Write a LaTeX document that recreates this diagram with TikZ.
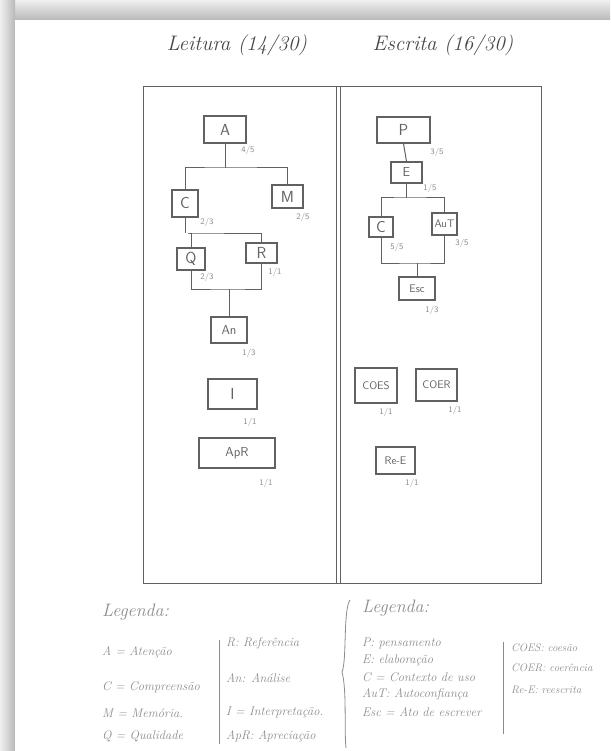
\documentclass[tikz,border=0pt]{standalone}
\usetikzlibrary{calc}
\definecolor{pencil}{gray}{0.38}
\definecolor{lightpencil}{gray}{0.55}
\definecolor{paper}{gray}{0.985}
\begin{document}
\begin{tikzpicture}[x=1pt,y=-1pt,
  bx/.style={draw=pencil, line width=1.1pt, inner sep=0pt, text=pencil,
    font=\sffamily\fontsize{16}{16}\selectfont},
  bxs/.style={bx, font=\sffamily\fontsize{11}{11}\selectfont},
  bxm/.style={bx, font=\sffamily\fontsize{13}{13}\selectfont},
  sc/.style={text=lightpencil, inner sep=0pt, font=\sffamily\fontsize{8.5}{8.5}\selectfont},
  ln/.style={draw=pencil, line width=1pt},
  ttl/.style={text=black!72, inner sep=0pt, font=\itshape\fontsize{21}{21}\selectfont},
  lg/.style={text=lightpencil, inner sep=0pt, anchor=west, font=\itshape\fontsize{12.5}{12.5}\selectfont},
  lgr/.style={lg, font=\itshape\fontsize{11}{11}\selectfont},
  lgh/.style={lg, font=\itshape\fontsize{18}{18}\selectfont}]
\useasboundingbox (0,0) rectangle (610,751);
% paper and scan shadow
\fill[paper] (0,0) rectangle (610,751);
\shade[top color=gray!12, bottom color=gray!55] (0,0) rectangle (610,20);
\shade[left color=gray!12, right color=gray!55] (0,0) rectangle (15,751);
\fill[white] (15,20) rectangle (610,751);

% titles
\node[ttl] (t1) at (237,45) {Leitura (14/30)};
\node[ttl] (t2) at (443,45) {Escrita (16/30)};

% main frame
\draw[draw=pencil, line width=1pt] (143,87) rectangle (541,583);
\draw[draw=pencil, line width=0.9pt] (336,87) -- (336,583);
\draw[draw=pencil, line width=0.9pt] (340,87) -- (340,583);

% ---------- Leitura tree ----------
\node[bx, minimum width=42pt, minimum height=27pt] (A) at (225,129.5) {A};
\node[bx, minimum width=26pt, minimum height=27pt] (C) at (185,203.5) {C};
\node[bx, minimum width=31pt, minimum height=23pt] (M) at (287.5,196.5) {M};
\node[bx, minimum width=28pt, minimum height=22pt] (Q) at (191,259) {Q};
\node[bx, minimum width=31pt, minimum height=20pt] (R) at (261.5,253) {R};
\node[bxm, minimum width=36pt, minimum height=26pt] (An) at (229,330) {An};
\node[bx, minimum width=49pt, minimum height=30pt] (I) at (232.5,394) {I};
\node[bxm, minimum width=76pt, minimum height=30pt] (ApR) at (237,453) {ApR};

\coordinate (busA) at (225,168);
\coordinate (busC) at (188,233);
\coordinate (busQ) at (229,289);
\draw[ln] (A.south) -- (A.south |- busA);
\draw[ln] (C.north) |- (busA) -| (M.north);
\draw[ln] (C.south) -- (C.south |- busC);
\draw[ln] (Q.north) |- (busC) -| (R.north);
\draw[ln] (Q.south) |- (busQ) -| (R.south);
\draw[ln] (busQ) -- (An.north);

\node[sc] (sA) at (248,150) {4/5};
\node[sc] (sM) at (303,217) {2/5};
\node[sc] (sC) at (207,222) {2/3};
\node[sc] (sR) at (275,272) {1/1};
\node[sc] (sQ) at (207,277) {2/3};
\node[sc] (sAn) at (249,353) {1/3};
\node[sc] (sI) at (250,422) {1/1};
\node[sc] (sApR) at (266,483) {1/1};

% ---------- Escrita tree ----------
\node[bx, minimum width=53pt, minimum height=26pt] (P) at (403.5,130) {P};
\node[bxm, minimum width=31pt, minimum height=21pt] (E) at (406.5,172.5) {E};
\node[bx, minimum width=24pt, minimum height=20pt] (C2) at (381,227) {C};
\node[bxs, minimum width=25pt, minimum height=22pt] (AuT) at (444.5,224) {AuT};
\node[bxs, minimum width=36pt, minimum height=23pt] (Esc) at (417,288.5) {Esc};
\node[bxs, minimum width=42pt, minimum height=35pt] (COES) at (376,385.5) {COES};
\node[bxs, minimum width=41pt, minimum height=32pt] (COER) at (436.5,385) {COER};
\node[bxs, minimum width=39pt, minimum height=27pt] (ReE) at (395.5,460.5) {Re-E};

\coordinate (busE) at (407,198);
\coordinate (busC2) at (417,263);
\draw[ln] (P.south) -- (E.north);
\draw[ln] (E.south) -- (E.south |- busE);
\draw[ln] (C2.north) |- (busE) -| (AuT.north);
\draw[ln] (C2.south) |- (busC2) -| (AuT.south);
\draw[ln] (busC2) -- (Esc.north);

\node[sc] (sP) at (437,152) {3/5};
\node[sc] (sE) at (430,188) {1/5};
\node[sc] (sAuT) at (462,243) {3/5};
\node[sc] (sC2) at (397,247) {5/5};
\node[sc] (sEsc) at (432,310) {1/3};
\node[sc] (sCOES) at (386,412) {1/1};
\node[sc] (sCOER) at (455,410) {1/1};
\node[sc] (sReE) at (412,483) {1/1};

% ---------- legends ----------
\node[lgh] (lg1) at (102,612) {Legenda:};
\node[lg] (l1a) at (102,652) {A = Atenção};
\node[lg] (l1b) at (102,687) {C = Compreensão};
\node[lg] (l1c) at (102,713) {M = Memória.};
\node[lg] (l1d) at (102,736) {Q = Qualidade};
\draw[draw=lightpencil, line width=0.8pt] (219,640) -- (219,744);
\node[lg] (l1e) at (226,643) {R: Referência};
\node[lg] (l1f) at (226,678) {An: Análise};
\node[lg] (l1g) at (226,712) {I = Interpretação.};
\node[lg] (l1h) at (226,736) {ApR: Apreciação};

\draw[draw=lightpencil, line width=0.8pt] (350,600) .. controls (343,610) and (347,660) .. (342,672)
  .. controls (347,690) and (344,730) .. (346,748);

\node[lgh] (lg2) at (362,608) {Legenda:};
\node[lg] (l2a) at (362,643) {P: pensamento};
\node[lg] (l2b) at (362,660) {E: elaboração};
\node[lg] (l2c) at (362,677) {C = Contexto de uso};
\node[lg] (l2d) at (362,694) {AuT: Autoconfiança};
\node[lg] (l2e) at (362,712) {Esc = Ato de escrever};
\draw[draw=lightpencil, line width=0.8pt] (503,642) -- (503,734);
\node[lgr] (l2f) at (511,648) {COES: coesão};
\node[lgr] (l2g) at (511,668) {COER: coerência};
\node[lgr] (l2h) at (511,690) {Re-E: reescrita};
\end{tikzpicture}
\end{document}
